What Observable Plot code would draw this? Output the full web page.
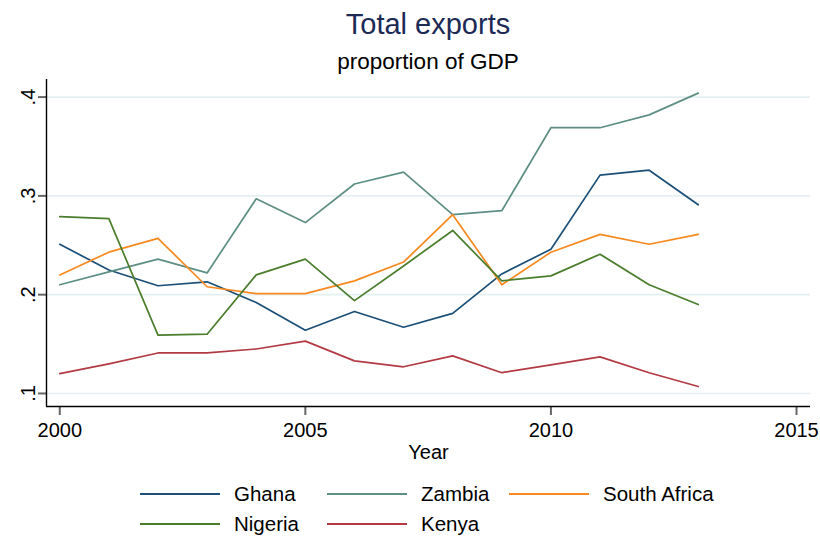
<!DOCTYPE html>
<html>
<head>
<meta charset="utf-8">
<script src="https://cdn.jsdelivr.net/npm/d3@7"></script>
<script src="https://cdn.jsdelivr.net/npm/@observablehq/plot@0.6"></script>
<style>
  html, body { margin: 0; padding: 0; background: #fff; }
  body { width: 820px; height: 536px; overflow: hidden; font-family: "Liberation Sans", Arial, Helvetica, sans-serif; }
  #head { position: relative; height: 79px; }
  #title { position: absolute; left: 46px; width: 764px; top: 10px; text-align: center; font-size: 29px; line-height: 1; color: #1c2a55; white-space: nowrap; }
  #subtitle { position: absolute; left: 46px; width: 764px; top: 50.5px; text-align: center; font-size: 22.5px; line-height: 1; color: #000; white-space: nowrap; }
  #chart svg { display: block; }
  #legend { position: relative; height: 65px; }
  .item { position: absolute; display: flex; align-items: center; height: 30px; font-size: 20.5px; color: #000; white-space: nowrap; }
  .sw { width: 80px; height: 2px; margin-right: 14px; }
</style>
</head>
<body>
<div id="head"><div id="title">Total exports</div><div id="subtitle">proportion of GDP</div></div>
<div id="chart"></div>
<div id="legend"></div>
<script>
const years = [2000, 2001, 2002, 2003, 2004, 2005, 2006, 2007, 2008, 2009, 2010, 2011, 2012, 2013];
const countries = ["Ghana", "Zambia", "South Africa", "Nigeria", "Kenya"];
const colors = ["#1b4f77", "#5e8f84", "#f7891f", "#4a7d2c", "#b33a44"];
const ghana       = [0.251, 0.225, 0.209, 0.213, 0.192, 0.164, 0.183, 0.167, 0.181, 0.221, 0.246, 0.321, 0.326, 0.291];
const zambia      = [0.210, 0.223, 0.236, 0.222, 0.297, 0.273, 0.312, 0.324, 0.281, 0.285, 0.369, 0.369, 0.382, 0.404];
const southAfrica = [0.220, 0.243, 0.257, 0.208, 0.201, 0.201, 0.214, 0.233, 0.281, 0.210, 0.243, 0.261, 0.251, 0.261];
const nigeria     = [0.279, 0.277, 0.159, 0.160, 0.220, 0.236, 0.194, 0.229, 0.265, 0.214, 0.219, 0.241, 0.210, 0.190];
const kenya       = [0.120, 0.130, 0.141, 0.141, 0.145, 0.153, 0.133, 0.127, 0.138, 0.121, 0.129, 0.137, 0.121, 0.107];
const xTicks = [2000, 2005, 2010, 2015];
const yTicks = [0.1, 0.2, 0.3, 0.4];
const yTickLabels = [".1", ".2", ".3", ".4"];
const xDomain = [1999.73, 2015.285];
const yDomain = [0.0868, 0.4178];

const series = [ghana, zambia, southAfrica, nigeria, kenya];
const data = [];
series.forEach((vals, i) => vals.forEach((v, j) => data.push({country: countries[i], year: years[j], value: v})));

const chart = Plot.plot({
  width: 820,
  height: 392,
  marginTop: 0,
  marginBottom: 65,
  marginLeft: 46,
  marginRight: 10,
  style: {fontFamily: '"Liberation Sans", Arial, Helvetica, sans-serif', fontSize: "20px", background: "#fff", color: "#000"},
  x: {domain: xDomain, axis: null},
  y: {domain: yDomain, axis: null},
  color: {domain: countries, range: colors},
  marks: [
    Plot.ruleY(yTicks, {stroke: "#e4eff0", strokeWidth: 1.6}),
    Plot.axisY({ticks: yTicks, tickSize: 8, tickFormat: () => "", stroke: "#666", strokeWidth: 2, label: null}),
    Plot.text(yTicks, {y: d => d, text: (d, i) => yTickLabels[i], frameAnchor: "left", rotate: -90, textAnchor: "middle", lineAnchor: "bottom", dx: -12, fontSize: 20, fill: "#000"}),
    Plot.axisX({ticks: xTicks, tickSize: 9, tickPadding: 7, tickFormat: d => String(d), stroke: "#666", strokeWidth: 2, fill: "#000", fontSize: 20, label: null}),
    Plot.text(["Year"], {frameAnchor: "bottom", dy: 52, lineAnchor: "bottom", fontSize: 20, fill: "#000"}),
    Plot.line(data, {x: "year", y: "value", z: "country", stroke: "country", strokeWidth: 1.7}),
    Plot.ruleX([xDomain[0]], {stroke: "#000", strokeWidth: 1.4}),
    Plot.ruleY([yDomain[0]], {stroke: "#000", strokeWidth: 1.4})
  ]
});
document.getElementById("chart").appendChild(chart);

const legendPos = [[140, 8], [327, 8], [509, 8], [140, 38], [327, 38]];
const legend = document.getElementById("legend");
countries.forEach((c, i) => {
  const it = document.createElement("div");
  it.className = "item";
  it.style.left = legendPos[i][0] + "px";
  it.style.top = legendPos[i][1] + "px";
  const sw = document.createElement("div");
  sw.className = "sw";
  sw.style.background = colors[i];
  const t = document.createElement("span");
  t.textContent = c;
  it.appendChild(sw);
  it.appendChild(t);
  legend.appendChild(it);
});
</script>
</body>
</html>
